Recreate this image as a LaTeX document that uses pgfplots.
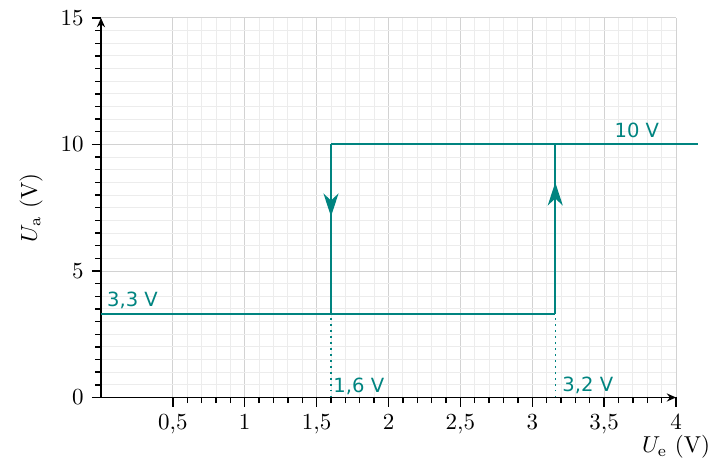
\documentclass[border=0pt]{standalone}
\usepackage{pgfplots}
\pgfplotsset{compat=1.18}
\usepackage{fontspec}
\newfontfamily\lab{DejaVu Sans}
\usetikzlibrary{arrows.meta}
\definecolor{tl}{RGB}{0,132,128}
\begin{document}
\begin{tikzpicture}
\begin{axis}[
 width=250pt, height=165pt, scale only axis,
 xmin=0, xmax=4, ymin=0, ymax=15,
 axis lines=left,
 axis line style={line width=0.8pt, -{Stealth[length=4pt,width=3.5pt]}},
 xtick={0.5,1,1.5,2,2.5,3,3.5,4}, ytick={0,5,10,15},
 minor x tick num=4, minor y tick num=9,
 tick align=outside,
 major tick length=4pt, minor tick length=2.5pt,
 tick style={black, line width=0.6pt},
 grid=both,
 major grid style={gray!35, line width=0.4pt},
 minor grid style={gray!15, line width=0.4pt},
 /pgf/number format/use comma,
 clip=false,
 xlabel={$U_\mathrm{e}$ (V)}, ylabel={$U_\mathrm{a}$ (V)},
 xlabel style={at={(axis cs:4,0)}, anchor=north, yshift=-13pt},
 ylabel style={xshift=0pt, yshift=1pt},
 ]
\coordinate (O) at (rel axis cs:0,0);
\coordinate (T) at (rel axis cs:1,1);
\addplot[tl, dotted, line width=0.6pt] coordinates {(1.6,0) (1.6,3.3)};
\addplot[tl, dotted, line width=0.6pt] coordinates {(3.16,0) (3.16,3.3)};
\addplot[tl, line width=0.9pt] coordinates {(0,3.3) (3.16,3.3)};
\addplot[tl, line width=0.9pt] coordinates {(3.16,3.3) (3.16,10)};
\addplot[tl, line width=0.9pt] coordinates {(1.6,10) (4.15,10)};
\addplot[tl, line width=0.9pt] coordinates {(1.6,10) (1.6,3.3)};
\addplot[tl, line width=0.9pt, -{Stealth[length=10pt,width=6.5pt,inset=3pt]}] coordinates {(3.16,6.5) (3.16,8.5)};
\addplot[tl, line width=0.9pt, -{Stealth[length=10pt,width=6.5pt,inset=3pt]}] coordinates {(1.6,9) (1.6,7.15)};
\node[tl, anchor=base west, inner sep=0pt, font=\lab\fontsize{8.5}{10}\selectfont] at (axis cs:3.57,10.26) {10 V};
\node[tl, anchor=base west, inner sep=0pt, font=\lab\fontsize{8.5}{10}\selectfont] at (axis cs:0.04,3.59) {3,3 V};
\node[tl, anchor=base west, inner sep=0pt, font=\lab\fontsize{8.5}{10}\selectfont] at (axis cs:1.614,0.2) {1,6 V};
\node[tl, anchor=base west, inner sep=0pt, font=\lab\fontsize{8.5}{10}\selectfont] at (axis cs:3.207,0.24) {3,2 V};
\end{axis}
\pgfresetboundingbox
\path ([shift={(-43.9pt,-28.3pt)}]O) rectangle ([shift={(15.2pt,7.8pt)}]T);
\end{tikzpicture}
\end{document}
